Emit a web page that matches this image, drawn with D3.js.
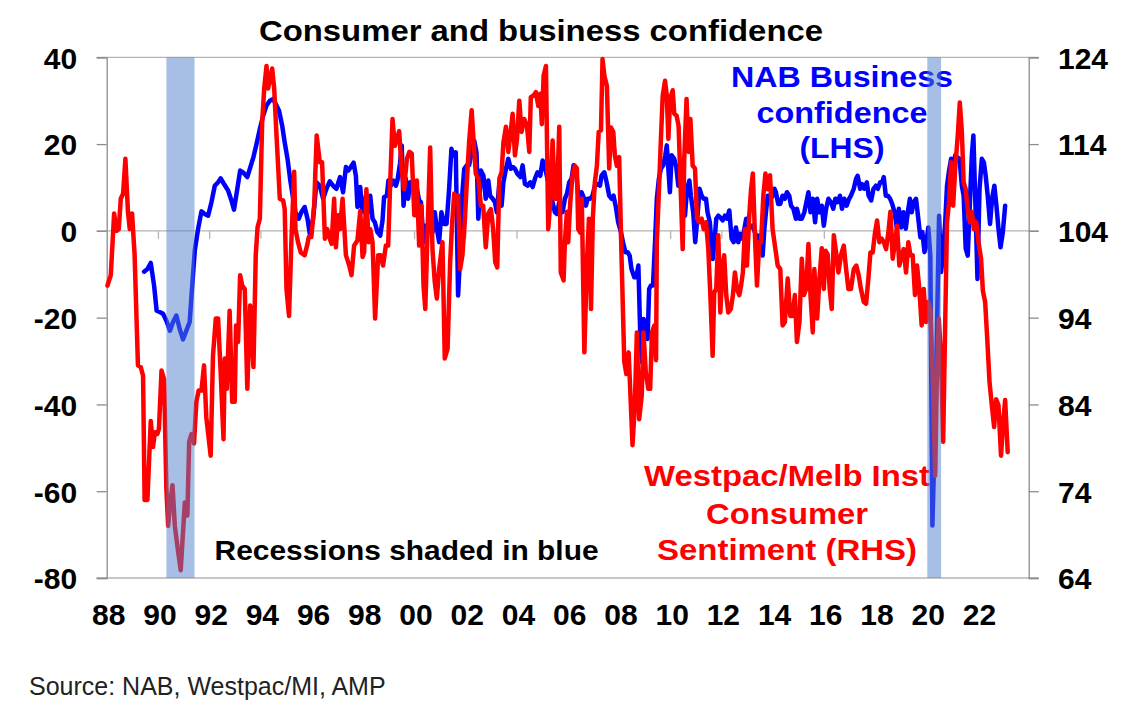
<!DOCTYPE html>
<html>
<head>
<meta charset="utf-8">
<script src="https://cdn.jsdelivr.net/npm/d3@7/dist/d3.min.js"></script>
<style>
  html, body { margin: 0; padding: 0; background: #fff; }
  svg { display: block; }
  text { font-family: "Liberation Sans", Arial, sans-serif; }
</style>
</head>
<body>
<svg id="chart" width="1130" height="724"></svg>
<script>
// ---------------- DATA ----------------
// Westpac/Melbourne Institute consumer sentiment (RHS), decimal-year dates
const redDates = [
1988.03,1988.16,1988.29,1988.38,1988.47,1988.55,1988.64,1988.73,1988.83,1988.90,1988.99,1989.09,1989.22,1989.33,1989.42,1989.48,1989.59,1989.72,1989.81,1989.88,1989.98,
1990.04,1990.14,1990.24,1990.33,1990.40,1990.47,1990.57,1990.66,1990.79,1990.89,1990.98,1991.05,1991.15,1991.22,1991.31,1991.41,1991.50,1991.59,1991.70,1991.80,1991.89,
1992.06,1992.15,1992.26,1992.35,1992.45,1992.56,1992.61,1992.69,1992.80,1992.90,1993.00,1993.05,1993.13,1993.21,1993.29,1993.39,1993.49,1993.60,1993.73,1993.82,1993.89,1993.98,
1994.07,1994.15,1994.24,1994.30,1994.38,1994.46,1994.54,1994.63,1994.76,1994.89,1994.95,1995.02,1995.12,1995.21,1995.32,1995.37,1995.47,1995.58,1995.67,1995.73,1995.84,1995.89,1995.99,
1996.10,1996.20,1996.32,1996.41,1996.52,1996.61,1996.69,1996.78,1996.88,1996.95,1997.04,1997.11,1997.21,1997.34,1997.47,1997.56,1997.66,1997.79,1997.90,1997.99,
1998.05,1998.14,1998.22,1998.29,1998.38,1998.48,1998.60,1998.70,1998.79,1998.90,1998.99,1999.07,1999.16,1999.25,1999.33,1999.42,1999.51,1999.61,1999.72,1999.82,1999.91,
2000.01,2000.11,2000.20,2000.29,2000.37,2000.44,2000.53,2000.63,2000.72,2000.81,2000.89,2000.98,2001.11,2001.20,2001.31,2001.41,2001.49,2001.57,2001.66,2001.72,2001.80,2001.89,2001.98,
2002.06,2002.15,2002.25,2002.32,2002.41,2002.51,2002.61,2002.70,2002.80,2002.90,2003.00,2003.09,2003.17,2003.25,2003.33,2003.42,2003.49,2003.59,2003.68,2003.76,2003.85,2003.94,
2004.02,2004.11,2004.20,2004.30,2004.41,2004.50,2004.56,2004.67,2004.76,2004.85,2004.93,2004.99,2005.06,2005.15,2005.24,2005.32,2005.41,2005.50,2005.58,2005.67,2005.73,2005.84,2005.89,2005.97,
2006.02,2006.10,2006.19,2006.28,2006.36,2006.41,2006.49,2006.55,2006.65,2006.75,2006.83,2006.91,2006.98,2007.06,2007.14,2007.21,2007.30,2007.36,2007.43,2007.53,2007.62,2007.69,2007.78,2007.84,2007.92,
2008.01,2008.10,2008.21,2008.29,2008.38,2008.44,2008.53,2008.62,2008.70,2008.79,2008.89,2008.96,2009.05,2009.15,2009.22,2009.29,2009.38,2009.45,2009.48,2009.56,2009.64,2009.71,2009.80,2009.87,2009.93,
2010.00,2010.10,2010.16,2010.25,2010.33,2010.42,2010.49,2010.55,2010.64,2010.72,2010.79,2010.88,2010.97,2011.05,2011.14,2011.23,2011.31,2011.40,2011.49,2011.57,2011.66,2011.72,2011.80,2011.88,2011.96,
2012.05,2012.11,2012.19,2012.27,2012.37,2012.45,2012.53,2012.61,2012.70,2012.77,2012.84,2012.92,2013.00,2013.09,2013.16,2013.23,2013.31,2013.39,2013.48,2013.55,2013.64,2013.72,2013.81,2013.90,
2014.00,2014.11,2014.20,2014.30,2014.39,2014.48,2014.59,2014.69,2014.78,2014.87,2014.95,2015.05,2015.14,2015.22,2015.31,2015.40,2015.48,2015.57,2015.63,2015.74,2015.83,2015.92,
2016.00,2016.07,2016.15,2016.23,2016.31,2016.39,2016.48,2016.57,2016.67,2016.78,2016.87,2016.96,2017.06,2017.17,2017.27,2017.36,2017.45,2017.56,2017.65,2017.74,2017.82,2017.91,
2018.00,2018.08,2018.17,2018.26,2018.34,2018.43,2018.52,2018.60,2018.69,2018.78,2018.86,2018.95,2019.04,2019.12,2019.21,2019.30,2019.38,2019.47,2019.56,2019.64,2019.73,2019.82,2019.90,2019.99,
2020.08,2020.16,2020.25,2020.35,2020.41,2020.49,2020.58,2020.66,2020.74,2020.81,2020.89,2020.97,2021.05,2021.13,2021.23,2021.31,2021.39,2021.46,2021.54,2021.62,2021.70,2021.78,2021.86,2021.95,
2022.04,2022.14,2022.21,2022.30,2022.38,2022.47,2022.56,2022.65,2022.73,2022.82,2022.92,2023.00,2023.08,2023.18
];
const redValues = [
97.7,98.9,106,104,104.2,107.7,108.3,112.3,106.2,104.2,106,101.2,88.5,88.3,87.3,73,73,82.1,79.1,80.8,80.6,
81.2,87.9,86.9,74.3,70,72.4,74.7,70,67,64.9,69.3,72.7,71.2,79.7,80.6,79.5,84.3,85.6,85.6,88.5,82.5,
78.1,89.6,93.9,93.9,87.7,80,89.3,85.8,94.8,84.3,84.3,93.1,91.2,98.9,97.7,97.3,85.8,95.4,88.3,101.2,104.4,105.4,
116.5,120.4,123,120.4,121.5,122.7,120.4,115,107.7,107.5,106.5,97.3,94.2,102.7,110.8,104.2,102.7,101.5,101.3,101.2,102.5,103.3,103.3,
106.9,115,111.9,111.9,103.1,104.2,103.3,102.5,107.7,102.1,105.8,104.2,107.7,101.2,100,98.9,102.3,102.9,106.3,101,
101.5,108.8,102.7,104.2,102.7,93.9,101.2,101.2,100,102.3,102.3,109.6,116.9,113.8,114.6,115.5,111.3,108.8,112.3,113.1,112.9,
105.8,109.8,102.3,106.9,97.7,95,104.2,113.6,101.9,98.1,96.2,99.6,102.7,89.3,90.4,100.4,105,108.3,107.3,108.1,99.6,101.2,105,
109.6,114.2,117.9,114.6,110.6,110,106.9,106.9,102.1,106,106.5,104.2,100.4,99.8,110,110.8,114.2,116,113.1,115,117.5,112.7,
114.6,119,115.4,116.9,116.1,113.1,119.4,119.6,120,118.4,119.8,116.3,121.9,123,104.2,107.3,114.4,107.7,107.7,116,99.2,98.3,102.7,106.2,
102.7,107.3,110.4,111.5,111.2,104.2,103.8,107.7,90,100.4,105.4,95,105.4,109.6,111.5,115.4,115.6,123.8,121.9,120.7,111.2,115.9,115.4,112.7,111.5,
112.5,101.2,88.9,87.5,90,85.8,79.3,83.9,92.3,82.3,85,92.3,87.7,85.8,85.8,92.3,93.1,89.1,102.7,108.5,114.6,119.6,121.3,119.6,114.6,
119.2,120.2,117.5,117.3,116.1,108.1,101.9,112.3,119.2,113.1,116.9,111.5,111.2,105.4,105,105.4,104.2,105,101.9,96.6,89.6,96.9,97.3,103.5,94.6,
100,101.2,96.6,94.6,95,96.6,99.2,97.3,96.6,97.7,99.2,104.2,100,105.8,108.8,110.6,103.5,97.7,102.7,102.7,108.1,110.6,108.8,110.4,
104.2,101.9,100,99.6,93.1,93.5,98.5,94.2,94.2,96.6,91.2,93.5,100.8,96.6,97.3,102.5,96.6,92.3,99.6,93.9,98.5,102,
97.3,101.7,101.3,97.3,95,103.5,101.5,99.2,101.2,102.3,99.6,97.3,97.3,99.6,100,98.9,97.3,95.8,95.6,98.5,101.5,101.5,
103.8,105.2,102.7,103.1,102.7,101.9,103.8,106.2,100.8,102.7,104.6,100,101.2,101.9,99.2,102.7,101.2,101.2,96.6,100,97.3,93.1,97.3,93.5,
95.8,95,87.3,75.8,86.6,93.9,89.3,79.7,93.5,105,107.3,111.9,106.9,111.2,115,118.8,115.4,109.6,108.8,106.5,105,106.2,104.2,105,
102.7,100.8,97.1,95.8,91.6,86.6,83.9,81.4,84.6,83.9,78.1,81.9,84.5,78.5
];

// NAB business confidence (LHS), decimal-year dates
const blueDates = [
1989.46,1989.59,1989.72,1989.85,1989.95,1990.07,1990.20,1990.33,1990.47,1990.59,1990.72,1990.85,1990.98,1991.11,1991.24,1991.33,1991.44,1991.57,1991.70,1991.83,1991.96,
1992.09,1992.22,1992.35,1992.45,1992.58,1992.74,1992.87,1992.97,1993.10,1993.21,1993.34,1993.49,1993.63,1993.73,1993.85,1993.98,
1994.11,1994.24,1994.37,1994.50,1994.63,1994.73,1994.85,1994.95,1995.06,1995.16,1995.28,1995.37,1995.50,1995.60,1995.73,1995.84,1995.93,
1996.06,1996.19,1996.32,1996.45,1996.58,1996.71,1996.84,1996.97,1997.11,1997.23,1997.34,1997.43,1997.53,1997.64,1997.73,1997.79,1997.90,1997.96,
1998.05,1998.12,1998.21,1998.29,1998.38,1998.47,1998.57,1998.68,1998.77,1998.83,1998.94,1999.00,1999.09,1999.19,1999.29,1999.35,1999.45,1999.52,1999.59,1999.68,1999.77,1999.85,1999.94,
2000.03,2000.11,2000.20,2000.27,2000.37,2000.46,2000.53,2000.63,2000.72,2000.81,2000.89,2000.98,2001.07,2001.18,2001.27,2001.37,2001.46,2001.54,2001.63,2001.72,2001.80,2001.89,2001.96,
2002.06,2002.15,2002.25,2002.35,2002.44,2002.51,2002.61,2002.71,2002.80,2002.90,2002.97,2003.07,2003.16,2003.23,2003.33,2003.42,2003.49,2003.59,2003.68,2003.78,2003.86,2003.94,
2004.04,2004.15,2004.24,2004.33,2004.43,2004.54,2004.63,2004.72,2004.82,2004.93,2005.02,2005.11,2005.21,2005.32,2005.41,2005.50,2005.58,2005.67,2005.76,2005.80,2005.89,2005.97,
2006.06,2006.15,2006.23,2006.32,2006.39,2006.46,2006.54,2006.62,2006.71,2006.78,2006.88,2006.97,2007.06,2007.17,2007.26,2007.32,2007.43,2007.52,2007.62,2007.71,2007.79,2007.88,2007.97,
2008.08,2008.16,2008.25,2008.34,2008.42,2008.49,2008.60,2008.68,2008.76,2008.83,2008.90,2008.96,2009.04,2009.12,2009.18,2009.25,2009.33,2009.41,2009.48,2009.56,2009.64,2009.73,2009.81,2009.87,2009.93,2009.99,
2010.06,2010.16,2010.24,2010.32,2010.40,2010.49,2010.58,2010.66,2010.75,2010.81,2010.90,2010.98,2011.07,2011.15,2011.23,2011.31,2011.40,2011.46,2011.55,2011.66,2011.72,2011.80,2011.88,2011.96,
2012.05,2012.14,2012.22,2012.31,2012.40,2012.48,2012.57,2012.66,2012.74,2012.83,2012.90,2012.97,2013.05,2013.13,2013.22,2013.31,2013.39,2013.48,2013.55,2013.61,2013.68,2013.74,2013.81,2013.90,2013.98,
2014.07,2014.13,2014.22,2014.30,2014.39,2014.48,2014.56,2014.65,2014.72,2014.81,2014.91,2014.95,2015.05,2015.14,2015.24,2015.32,2015.40,2015.48,2015.57,2015.66,2015.74,2015.83,2015.92,
2016.00,2016.09,2016.18,2016.28,2016.37,2016.45,2016.54,2016.63,2016.71,2016.80,2016.89,2016.99,2017.06,2017.17,2017.26,2017.32,2017.42,2017.49,2017.58,2017.68,2017.75,2017.85,2017.94,
2018.03,2018.11,2018.20,2018.28,2018.34,2018.42,2018.50,2018.59,2018.67,2018.76,2018.85,2018.93,2019.02,2019.11,2019.20,2019.28,2019.36,2019.43,2019.51,2019.60,2019.69,2019.77,2019.85,2019.93,
2020.01,2020.08,2020.16,2020.24,2020.32,2020.40,2020.50,2020.58,2020.66,2020.74,2020.81,2020.89,2020.97,2021.05,2021.13,2021.20,2021.30,2021.39,2021.46,2021.54,2021.62,2021.70,2021.78,2021.84,2021.92,
2022.00,2022.08,2022.17,2022.25,2022.32,2022.40,2022.49,2022.57,2022.66,2022.74,2022.82,2022.90,2022.99,2023.08
];
const blueValues = [
-9.4,-8.8,-7.4,-12.6,-18.4,-18.7,-19.1,-20.7,-23,-21,-19.5,-22.6,-25,-23,-21,-13.4,-4.5,0.5,4.5,3.9,3.5,
6.6,10.4,11.2,12.1,10.8,9.3,7,4.9,9.7,13.9,13.4,12.4,15.1,17,20,23.5,
26.6,28.9,30,30.4,28.9,27.7,24.3,20.4,16.6,12,7.4,4.3,2.8,4.3,5.5,2.8,-0.7,
2.8,11.2,10.4,7.4,9.7,11.4,10.4,9.7,12.4,8.9,14.7,13.9,14.7,15.7,12.7,5.5,10.1,5.5,
4.3,8.1,4.3,8.1,2.8,2,-0.3,-1.1,2.4,7.8,8.1,11.6,10.4,11.6,10.4,11.6,15.4,19.7,5.8,12,7.4,11.2,11.2,
8.9,9.7,7,6.6,-2.6,1.2,-0.3,0.5,-0.3,4.3,0.5,-2.6,4.3,1.6,1.6,9.7,18.9,17.4,18.1,-14.9,-5.7,8.9,14.3,
15.1,15.1,18.1,20.8,18.1,2.8,13.9,12.7,7.4,11.6,8.1,7.4,6.6,4.3,10.8,5.8,11.2,14.3,16.6,14.3,14.7,14.3,
13.1,12.4,15.1,10.8,10.4,11.2,10.1,12,13.5,12.7,16.2,14.7,12,9.7,6.6,4.3,3.9,6.6,5.1,4.3,7.4,8.5,
11.2,12,15.1,14.3,9.7,6.6,8.9,7.8,5.8,7.4,7.4,8.1,10.4,10.8,10.4,12.7,13.5,11.2,8.1,7.4,8.1,5.5,2,
-0.3,-2.6,-4.9,-4.9,-5.7,-8.8,-10.7,-10.7,-8,-23.3,-30.3,-20.3,-21,-24.9,-13.4,-12.6,-12.6,-2.6,7.4,12,14.3,15.1,17.4,19.7,14.3,8.9,
17.4,16.6,14.7,10.4,11.2,7.8,3.5,9.7,11.6,8.1,4.3,-2.6,3.5,9.7,8.1,7.4,7.4,4.3,2,-6.5,-3.4,2.8,3.5,3.1,
2.4,3.5,2.8,4.7,-1.8,-2.6,0.8,-2.6,-0.7,-1.8,0.5,2.8,2,0.8,1.2,-0.3,-1.8,-1.1,-3,-5.7,0.5,4.3,8.1,8.1,7.8,
9.7,8.9,6.2,6.2,8.1,7.4,8.9,8.1,5.8,5.1,2.8,5.1,2.8,2.8,4.3,6.6,8.9,4.3,7.4,2,7.4,4.3,5.8,
1.2,5.1,7.4,6.6,5.1,7.4,6.6,8.1,5.1,7.4,5.8,7.4,8.1,9.7,12,12.7,9.7,10.8,9.7,11.2,8.1,7,9.7,
10.4,9.7,11.2,11.2,12.4,8.1,8.1,7.4,6.2,4.3,0.8,5.1,0.8,4.3,0.5,4.3,7.4,4.3,6.6,7.4,2.8,-1.5,-0.3,-4.9,
-2.6,0.8,-5.7,-67.9,-50.2,-28.7,3.5,-9.5,-4.9,2,10.4,13.9,16.6,14.3,17.4,17,16.6,10.4,8.1,-4.1,-5.7,5.8,17.4,22,5.8,
-11.1,9.7,16.6,15.8,12.7,8.1,1.6,7.4,10.4,5.8,0.5,-3.8,-0.3,5.8
];

// Recessions (decimal years)
const recessionStart = [1990.33, 2020.04];
const recessionEnd   = [1991.43, 2020.58];

// Axes
const leftTicks  = [40, 20, 0, -20, -40, -60, -80];
const rightTicks = [124, 114, 104, 94, 84, 74, 64];
const xTickYears = [1990,1992,1994,1996,1998,2000,2002,2004,2006,2008,2010,2012,2014,2016,2018,2020,2022];
const xLabelYears = [1988,1990,1992,1994,1996,1998,2000,2002,2004,2006,2008,2010,2012,2014,2016,2018,2020,2022];
const xLabels = ["88","90","92","94","96","98","00","02","04","06","08","10","12","14","16","18","20","22"];

const titleText = "Consumer and business confidence";
const nabLines = ["NAB Business", "confidence", "(LHS)"];
const wbcLines = ["Westpac/Melb Inst", "Consumer", "Sentiment (RHS)"];
const recessionNote = "Recessions shaded in blue";
const sourceText = "Source: NAB, Westpac/MI, AMP";

// ---------------- CHART ----------------
const svg = d3.select("#chart");
const L = 106.7, R = 1028.7, T = 57.3, B = 578;

const x  = d3.scaleLinear().domain([1988, 2024]).range([L, R]);
const yL = d3.scaleLinear().domain([-80, 40]).range([B, T]);
const yR = d3.scaleLinear().domain([64, 124]).range([B, T]);

const axisGray = "#8c8c8c";
const gridGray = "#b5b5b5";
const tickFont = "'Liberation Sans', Arial, sans-serif";

// horizontal reference lines (40, 0, -80)
svg.append("g").selectAll("line").data([40, 0, -80]).join("line")
  .attr("x1", L - 10).attr("x2", R + 10)
  .attr("y1", d => yL(d)).attr("y2", d => yL(d))
  .attr("stroke", gridGray).attr("stroke-width", 1.3);

// left axis
const gLeft = svg.append("g").attr("transform", `translate(${L},0)`)
  .call(d3.axisLeft(yL).tickValues(leftTicks).tickSize(10).tickPadding(19.5).tickFormat(d => String(d)));
gLeft.select(".domain").attr("stroke", axisGray).attr("stroke-width", 1.3);
gLeft.selectAll(".tick line").attr("stroke", axisGray).attr("stroke-width", 1.3);
gLeft.selectAll(".tick text").attr("dy", "0.36em")
  .style("font-size", "30px").style("font-weight", "bold").attr("fill", "#000")
  .style("font-family", tickFont);

// right axis
const gRight = svg.append("g").attr("transform", `translate(${R},0)`)
  .call(d3.axisRight(yR).tickValues(rightTicks).tickSize(10).tickPadding(19.3).tickFormat(d => String(d)));
gRight.select(".domain").attr("stroke", axisGray).attr("stroke-width", 1.3);
gRight.selectAll(".tick line").attr("stroke", axisGray).attr("stroke-width", 1.3);
gRight.selectAll(".tick text").attr("dy", "0.36em")
  .style("font-size", "30px").style("font-weight", "bold").attr("fill", "#000")
  .style("font-family", tickFont);

// x ticks on zero line
const gX = svg.append("g").attr("transform", `translate(0,${yL(0)})`)
  .call(d3.axisBottom(x).tickValues(xTickYears).tickSize(8).tickFormat(""));
gX.select(".domain").remove();
gX.selectAll(".tick line").attr("stroke", gridGray).attr("stroke-width", 1.3);

// x labels at bottom
const gXL = svg.append("g").attr("transform", `translate(0,${B})`)
  .call(d3.axisBottom(x).tickValues(xLabelYears).tickSize(0).tickPadding(25.7)
    .tickFormat((d, i) => xLabels[i]));
gXL.select(".domain").remove();
gXL.selectAll(".tick text").attr("x", 1.5)
  .style("font-size", "30px").style("font-weight", "bold").attr("fill", "#000")
  .style("font-family", tickFont);

// lines
const blueLine = d3.line().x((d, i) => x(blueDates[i])).y(d => yL(d)).curve(d3.curveLinear);
const redLine  = d3.line().x((d, i) => x(redDates[i])).y(d => yR(d)).curve(d3.curveLinear);

svg.append("path").datum(blueValues).attr("d", blueLine)
  .attr("fill", "none").attr("stroke", "#0000FF").attr("stroke-width", 4.5)
  .attr("stroke-linejoin", "round").attr("stroke-linecap", "round");
svg.append("path").datum(redValues).attr("d", redLine)
  .attr("fill", "none").attr("stroke", "#FF0000").attr("stroke-width", 4.5)
  .attr("stroke-linejoin", "round").attr("stroke-linecap", "round");

// text helper
function txt(s, px, py, opts) {
  const t = svg.append("text").attr("x", px).attr("y", py).text(s)
    .attr("text-anchor", opts.anchor || "start")
    .attr("fill", opts.color || "#000")
    .style("font-size", opts.size + "px")
    .style("font-weight", opts.weight || "bold");
  if (opts.len) t.attr("textLength", opts.len).attr("lengthAdjust", "spacingAndGlyphs");
  return t;
}

// title
txt(titleText, 541, 41, { anchor: "middle", size: 30, len: 564 });

// NAB label
const nabLens = [222, 171, 85];
const nabY = [86.7, 122.7, 157.7];
nabLines.forEach((s, i) => txt(s, 842, nabY[i], { anchor: "middle", size: 30, color: "#0000FF", len: nabLens[i] }));

// Westpac label
const wbcLens = [286, 162, 260];
const wbcY = [486, 524, 560];
wbcLines.forEach((s, i) => txt(s, 787, wbcY[i], { anchor: "middle", size: 30, color: "#FF0000", len: wbcLens[i] }));

// recession note
txt(recessionNote, 214.6, 560, { anchor: "start", size: 28, len: 384 });

// source
txt(sourceText, 29, 695, { anchor: "start", size: 25, weight: "normal", color: "#222" });

// recession shading on top
svg.append("g").selectAll("rect").data(recessionStart).join("rect")
  .attr("x", d => x(d))
  .attr("width", (d, i) => x(recessionEnd[i]) - x(d))
  .attr("y", T).attr("height", B - T)
  .attr("fill", "#4F7FCB").attr("fill-opacity", 0.5);
</script>
</body>
</html>
